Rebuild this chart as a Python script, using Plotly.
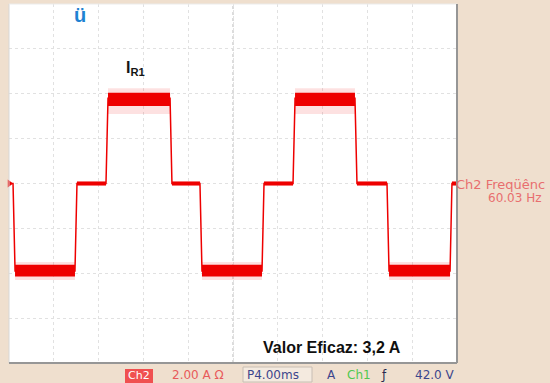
import plotly.graph_objects as go

# ---- data (time in ms, current in A) ----
t_ms = [0.0, 0.36, 0.54, 5.89, 6.07, 8.66, 8.84, 14.38, 14.55, 17.05, 17.23,
        22.59, 22.77, 25.36, 25.54, 30.89, 31.07, 33.75, 33.93, 39.38, 39.55, 40.0]
i_A = [0.0, 0.0, -3.9, -3.9, 0.0, 0.0, 3.8, 3.8, 0.0, 0.0, -3.9,
       -3.9, 0.0, 0.0, 3.8, 3.8, 0.0, 0.0, -3.9, -3.9, 0.0, 0.0]

# ripple band of each plateau (start, end, upper, lower)
band_t0 = [0.54, 6.07, 8.84, 14.55, 17.23, 22.77, 25.54, 31.07, 33.93, 39.55]
band_t1 = [5.89, 8.66, 14.38, 17.05, 22.59, 25.36, 30.89, 33.75, 39.38, 40.0]
band_hi = [-3.62, 0.09, 4.05, 0.09, -3.62, 0.09, 4.05, 0.09, -3.62, 0.09]
band_lo = [-4.15, -0.09, 3.45, -0.09, -4.15, -0.09, 3.45, -0.09, -4.15, -0.09]
spike_hi = [-3.5, 0.1, 4.25, 0.1, -3.5, 0.1, 4.25, 0.1, -3.5, 0.1]
spike_lo = [-4.3, -0.1, 3.1, -0.1, -4.3, -0.1, 3.1, -0.1, -4.3, -0.1]

x_range = [0, 40]       # 10 div x 4.00 ms
y_range = [-8, 8]       # 8 div x 2.00 A

RED = "rgb(238,0,0)"
BEIGE = "#EFDFCE"

W, H = 550, 383
L, R, T, B = 9, 93, 4, 20
PW, PH = W - L - R, H - T - B


def px(x):
    return (x - L) / PW


def py(y):
    return (H - B - y) / PH


def band_path(t0, t1, hi, lo):
    xs, ys = [], []
    for a, b, h, l in zip(t0, t1, hi, lo):
        xs += [a, b, b, a, a, None]
        ys += [h, h, l, l, h, None]
    return xs, ys


fig = go.Figure()

sx, sy = band_path(band_t0, band_t1, spike_hi, spike_lo)
fig.add_trace(go.Scatter(x=sx, y=sy, mode="lines", fill="toself",
                         fillcolor="rgba(245,90,90,0.18)", line=dict(width=0),
                         hoverinfo="skip", showlegend=False))
bx, by = band_path(band_t0, band_t1, band_hi, band_lo)
fig.add_trace(go.Scatter(x=bx, y=by, mode="lines", fill="toself",
                         fillcolor=RED, line=dict(width=0),
                         hoverinfo="skip", showlegend=False))
fig.add_trace(go.Scatter(x=t_ms, y=i_A, mode="lines",
                         line=dict(color=RED, width=1.5),
                         hoverinfo="skip", showlegend=False))
# channel marker
fig.add_trace(go.Scatter(x=[0.05], y=[0], mode="markers",
                         marker=dict(symbol="triangle-right", size=7, color=RED),
                         cliponaxis=False, showlegend=False, hoverinfo="skip"))

grid = dict(showgrid=True, gridcolor="rgb(225,225,225)", griddash="dot",
            gridwidth=1, zeroline=False, showticklabels=False, ticks="",
            fixedrange=True)
fig.update_xaxes(range=x_range, dtick=4, tick0=0, **grid)
fig.update_yaxes(range=y_range, dtick=2, tick0=0, **grid)

shapes = [
    # centre cross
    dict(type="line", xref="x", yref="y", x0=x_range[0], x1=x_range[1], y0=0, y1=0,
         line=dict(color="rgb(185,185,185)", width=1, dash="dot"), layer="below"),
    dict(type="line", xref="x", yref="y", x0=20, x1=20, y0=y_range[0], y1=y_range[1],
         line=dict(color="rgb(185,185,185)", width=1, dash="dot"), layer="below"),
    # frame
    dict(type="line", xref="paper", yref="paper", x0=0, x1=0, y0=0, y1=1,
         line=dict(color="rgb(215,215,215)", width=1)),
    dict(type="line", xref="paper", yref="paper", x0=0, x1=1, y0=1, y1=1,
         line=dict(color="rgb(235,235,235)", width=1)),
    dict(type="line", xref="paper", yref="paper", x0=1, x1=1, y0=0, y1=1,
         line=dict(color="rgb(150,150,150)", width=2)),
    dict(type="line", xref="paper", yref="paper", x0=0, x1=1, y0=0, y1=0,
         line=dict(color="rgb(150,150,150)", width=2)),
    # Ch2 box in status bar
    dict(type="rect", xref="paper", yref="paper", x0=px(125), x1=px(153),
         y0=py(383), y1=py(369), fillcolor="rgb(240,80,80)", line=dict(width=0)),
    # P box
    dict(type="rect", xref="paper", yref="paper", x0=px(243), x1=px(312),
         y0=py(382), y1=py(367), fillcolor="rgba(255,255,255,0.35)",
         line=dict(color="rgb(200,190,180)", width=1)),
]

ann = []


def text(x, y, s, size=12, color="black", xanchor="center",
         family="DejaVu Sans"):
    ann.append(dict(xref="paper", yref="paper", x=px(x), y=py(y), text=s,
                    showarrow=False, xanchor=xanchor, yanchor="middle",
                    font=dict(size=size, color=color, family=family)))


text(80, 15, "<b>ü</b>", 20, "rgb(30,130,210)", family="Liberation Sans")
text(135, 68, "<b>I<sub>R1</sub></b>", 16, "rgb(20,20,20)", family="Liberation Sans")
text(332, 347, "<b>Valor Eficaz: 3,2 A</b>", 16, "rgb(15,15,15)", family="Liberation Sans")
text(454, 185, "Ch2 Freqüênc", 13, "rgb(232,110,110)", xanchor="left")
text(544, 198, "60.03 Hz", 12, "rgb(232,110,110)", xanchor="right")

# status bar
text(139, 375, "Ch2", 11, "white")
text(170, 375, "2.00 A Ω", 12, "rgb(232,90,90)", xanchor="left")
text(245, 375, "P4.00ms", 12, "rgb(60,70,140)", xanchor="left")
text(331, 375, "A", 12, "rgb(60,70,140)")
text(345, 375, "Ch1", 12, "rgb(80,200,80)", xanchor="left")
text(384, 375, "ƒ", 12, "rgb(40,40,80)")
text(457, 375, "42.0 V", 12, "rgb(60,70,140)", xanchor="right")

fig.update_layout(width=W, height=H, margin=dict(l=L, r=R, t=T, b=B),
                  paper_bgcolor=BEIGE, plot_bgcolor="white",
                  shapes=shapes, annotations=ann, showlegend=False)

fig.write_html("out.html", config={"displayModeBar": False},
               post_script="document.body.style.margin='0px';"
                           "document.body.style.overflow='hidden';")
